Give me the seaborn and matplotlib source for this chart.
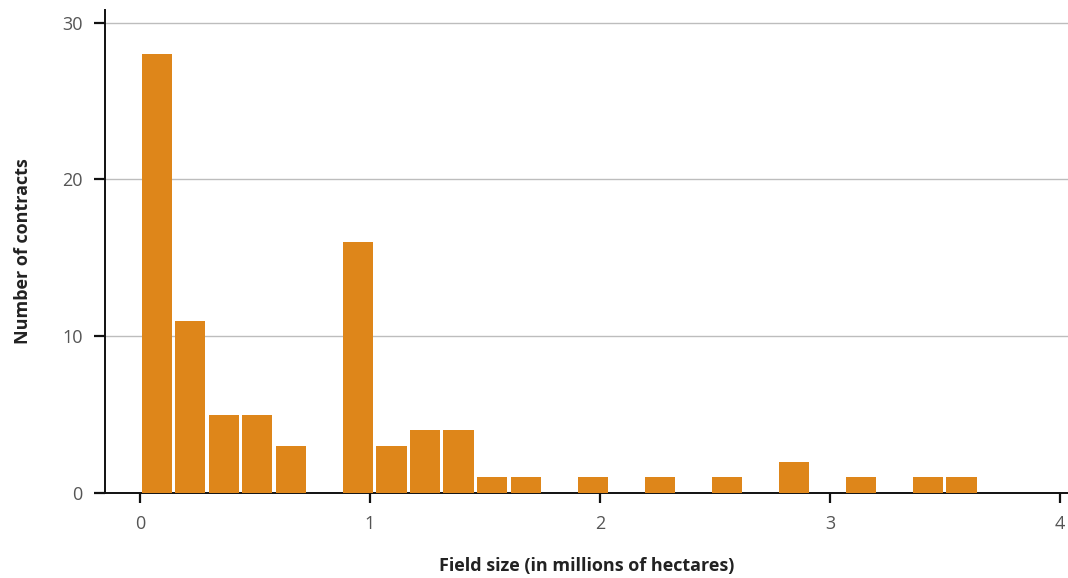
import numpy as np
import pandas as pd
import matplotlib
matplotlib.use("Agg")
import matplotlib.pyplot as plt
import seaborn as sns

# ---------------------------------------------------------
# Data: contract counts per field-size bin (millions of hectares)
# ---------------------------------------------------------
bin_width = 0.1458
counts = [28, 11, 5, 5, 3, 0, 16, 3, 4, 4, 1, 1, 0,
          1, 0, 1, 0, 1, 0, 2, 0, 1, 0, 1, 1]
x_ticks = [0, 1, 2, 3, 4]
y_ticks = [0, 10, 20, 30]

edges = np.arange(len(counts) + 1) * bin_width
df = pd.DataFrame({
    "size": (edges[:-1] + edges[1:]) / 2,
    "count": counts,
})

# ---------------------------------------------------------
# Plot
# ---------------------------------------------------------
sns.set_style("white")
plt.rcParams["font.family"] = ["Open Sans", "DejaVu Sans"]

fig = plt.figure(figsize=(10.68, 5.78), dpi=100)
ax = fig.add_axes([105 / 1068, 1 - 493 / 578, (1068 - 105) / 1068, (493 - 10) / 578])

sns.histplot(data=df, x="size", weights="count", bins=edges.tolist(), shrink=0.9,
             color="#DE861A", alpha=1, edgecolor="none", ax=ax, zorder=3)

ax.set_xlim(-0.152, 4.035)
ax.set_ylim(0, 30.8)
ax.set_xticks(x_ticks)
ax.set_yticks(y_ticks)
ax.yaxis.grid(True, color="#bdbdbd", linewidth=1)
ax.set_axisbelow(True)

for side in ["top", "right"]:
    ax.spines[side].set_visible(False)
for side in ["left", "bottom"]:
    ax.spines[side].set_color("#111111")
    ax.spines[side].set_linewidth(1.4)

ax.tick_params(axis="x", length=7, width=1.6, color="#111111", pad=9,
               labelsize=13, labelcolor="#555555", direction="out", bottom=True)
ax.tick_params(axis="y", length=8, width=1.6, color="#111111", pad=8,
               labelsize=13, labelcolor="#555555", direction="out", left=True)

ax.set_xlabel("Field size (in millions of hectares)", fontsize=13,
              fontweight="bold", color="#222222", labelpad=17)
ax.set_ylabel("Number of contracts", fontsize=13,
              fontweight="bold", color="#222222", labelpad=22)

plt.savefig("out.png", dpi=100)
plt.close()
